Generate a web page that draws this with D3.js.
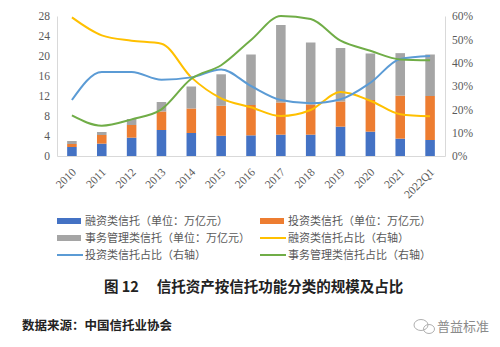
<!DOCTYPE html>
<html><head><meta charset="utf-8">
<script src="https://cdn.jsdelivr.net/npm/d3@7"></script>
<style>body{margin:0;background:#fff}svg{display:block}</style>
</head><body><svg id="c" width="500" height="347"></svg>
<script>
const categories = ["2010","2011","2012","2013","2014","2015","2016","2017","2018","2019","2020","2021","2022Q1"];
const financing = [1.8,2.47,3.67,5.2,4.6,4.04,4.13,4.27,4.27,5.87,4.87,3.47,3.2];
const investment = [0.6,1.73,2.53,3.7,4.9,6.0,6.07,6.43,6.03,5.03,6.33,8.6,8.8];
const management = [0.6,0.6,1.2,1.9,4.4,6.3,10.1,15.5,12.4,10.7,9.3,8.5,8.3];
const financingShare = [59.4,51.7,49.4,48.1,33.7,24.7,20.9,17.1,19.7,27.4,23.7,17.9,17.0];
const investmentShare = [24.0,36.0,36.0,32.7,33.7,37.1,30.0,24.0,22.6,24.3,31.4,41.6,42.9];
const managementShare = [17.4,13.0,15.7,20.0,33.1,38.9,49.7,60.0,58.7,49.4,45.1,41.4,41.0];
const leftTicks = [0,4,8,12,16,20,24,28];
const rightTicks = [0,10,20,30,40,50,60];
const legendLabels = ["融资类信托（单位：万亿元）","投资类信托（单位：万亿元）","事务管理类信托（单位：万亿元）","融资类信托占比（右轴）","投资类信托占比（右轴）","事务管理类信托占比（右轴）"];
const titleText = "图 12　 信托资产按信托功能分类的规模及占比";
const sourceText = "数据来源：中国信托业协会";
const watermark = "普益标准";

const colors = {fin:"#4472C4",inv:"#ED7D31",man:"#A5A5A5",finS:"#FFC000",invS:"#5B9BD5",manS:"#70AD47"};
const svg = d3.select("#c");
const L=57,R=445,T=16,B=156;
const x = d3.scaleBand().domain(categories).range([L,R]).paddingInner(0.68).paddingOuter(0.34);
const yL = d3.scaleLinear().domain([0,28]).range([B,T]);
const yR = d3.scaleLinear().domain([0,60]).range([B,T]);
const serif = "'Liberation Serif','DejaVu Serif',serif";
const txt = "#595959";

// axes
const axL = svg.append("g").attr("transform",`translate(${L},0)`).call(d3.axisLeft(yL).tickValues(leftTicks).tickSize(0).tickPadding(7));
const axR = svg.append("g").attr("transform",`translate(${R},0)`).call(d3.axisRight(yR).tickValues(rightTicks).tickSize(0).tickPadding(7).tickFormat(d=>d+"%"));
const axB = svg.append("g").attr("transform",`translate(0,${B})`).call(d3.axisBottom(x).tickSize(0).tickPadding(0));
[axL,axR,axB].forEach(g=>{
  g.select(".domain").attr("stroke","#d9d9d9");
  g.selectAll("text").attr("fill",txt).style("font-family",serif).style("font-size","11.5px");
});
axB.selectAll(".tick text").attr("text-anchor","end").attr("x",0).attr("y",0).attr("dy","0.35em")
  .attr("transform","translate(2,14) rotate(-45)");

// stacked bars
const stackData = categories.map((c,i)=>({cat:c,fin:financing[i],inv:investment[i],man:management[i]}));
const stack = d3.stack().keys(["fin","inv","man"])(stackData);
svg.append("g").selectAll("g").data(stack).join("g").attr("fill",d=>colors[d.key])
  .selectAll("rect").data(d=>d).join("rect")
  .attr("x",d=>x(d.data.cat)).attr("width",x.bandwidth())
  .attr("y",d=>yL(d[1])).attr("height",d=>yL(d[0])-yL(d[1]));

// lines
const line = d3.line().x((d,i)=>x(categories[i])+x.bandwidth()/2).y(d=>yR(d)).curve(d3.curveMonotoneX);
[[financingShare,colors.finS],[investmentShare,colors.invS],[managementShare,colors.manS]].forEach(([arr,c])=>{
  svg.append("path").datum(arr).attr("d",line).attr("fill","none").attr("stroke",c).attr("stroke-width",2).attr("stroke-linejoin","round");
});

// legend
const lg = svg.append("g").style("font-family","'Noto Sans CJK SC',sans-serif").style("font-size","11px");
const legItems = [
  {t:"rect",c:colors.fin},{t:"rect",c:colors.inv},{t:"rect",c:colors.man},
  {t:"line",c:colors.finS},{t:"line",c:colors.invS},{t:"line",c:colors.manS}];
const colX=[57,260], rowY=[221,238,255];
legItems.forEach((it,i)=>{
  const cx=colX[i%2], cy=rowY[Math.floor(i/2)];
  if(it.t==="rect") lg.append("rect").attr("x",cx).attr("y",cy-3).attr("width",24).attr("height",6).attr("fill",it.c);
  else lg.append("line").attr("x1",cx).attr("x2",cx+26).attr("y1",cy).attr("y2",cy).attr("stroke",it.c).attr("stroke-width",2);
  lg.append("text").attr("x",cx+28).attr("y",cy).attr("dy","0.35em").attr("fill",txt).text(legendLabels[i]);
});

// title
svg.append("text").attr("x",104).attr("y",287).attr("dy","0.35em").style("font-family","'Noto Sans CJK SC',sans-serif").style("font-weight","bold").style("font-size","14.5px").attr("fill","#222").text(titleText);
svg.append("text").attr("x",22).attr("y",326).attr("dy","0.35em").style("font-family","'Noto Sans CJK SC',sans-serif").style("font-weight","bold").style("font-size","12.5px").attr("fill","#222").text(sourceText);
// watermark
const wm = svg.append("g").attr("fill","none").attr("stroke","#b0b0b0").attr("stroke-width",1);
wm.append("ellipse").attr("cx",421).attr("cy",325).attr("rx",7).attr("ry",5.5);
wm.append("ellipse").attr("cx",429).attr("cy",329).attr("rx",5.5).attr("ry",4.5);
svg.append("text").attr("x",437).attr("y",326).attr("dy","0.35em").style("font-family","'Noto Sans CJK SC',sans-serif").style("font-size","13px").attr("fill","#8a8a8a").text(watermark);
</script></body></html>
